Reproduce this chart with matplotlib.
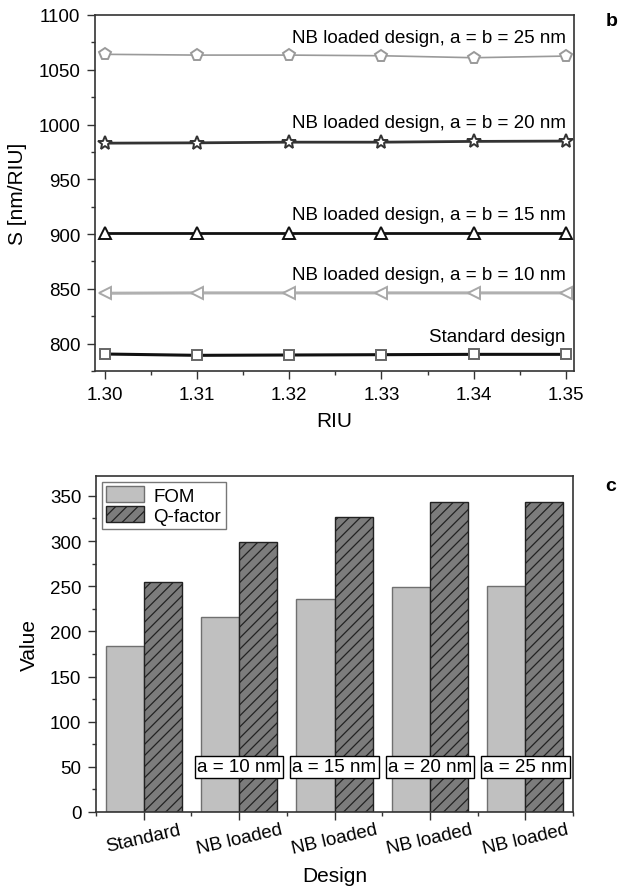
import numpy as np
import matplotlib.pyplot as plt
from matplotlib.ticker import MultipleLocator, FixedLocator

plt.rcParams['font.family'] = ['Liberation Sans', 'DejaVu Sans']
plt.rcParams['hatch.linewidth'] = 0.9

# panel b: sensitivity vs refractive index
riu = [1.30, 1.31, 1.32, 1.33, 1.34, 1.35]
s_standard = [790.5, 789.3, 789.6, 789.9, 790.2, 790.2]
s_nb10 = [846.0, 846.3, 846.3, 846.3, 846.3, 846.3]
s_nb15 = [901.4, 901.4, 901.4, 901.4, 901.4, 901.4]
s_nb20 = [983.0, 983.3, 983.9, 983.9, 984.6, 984.9]
s_nb25 = [1064.1, 1063.4, 1063.4, 1062.8, 1061.0, 1062.5]

# panel c: FOM and Q-factor per design
designs = ["Standard", "NB loaded", "NB loaded", "NB loaded", "NB loaded"]
box_labels = ["", "a = 10 nm", "a = 15 nm", "a = 20 nm", "a = 25 nm"]
fom = [183.8, 216.2, 236.0, 249.6, 250.7]
qfactor = [254.8, 298.9, 326.5, 343.0, 343.0]

FS = 13.5
W, H = 620, 895
fig = plt.figure(figsize=(W / 100, H / 100), dpi=100)
ax1 = fig.add_axes([95 / W, 1 - 372 / H, (574 - 95) / W, (372 - 16) / H])
ax2 = fig.add_axes([96 / W, 1 - 813 / H, (573 - 96) / W, (813 - 477) / H])

series = [
    (s_standard, "s", "#111111", 2.2, "#666666", 7.5, "Standard design"),
    (s_nb10, "<", "#b0b0b0", 2.2, "#a8a8a8", 8.5, "NB loaded design, a = b = 10 nm"),
    (s_nb15, "^", "#111111", 2.0, "#111111", 8.5, "NB loaded design, a = b = 15 nm"),
    (s_nb20, "*", "#333333", 2.0, "#333333", 10, "NB loaded design, a = b = 20 nm"),
    (s_nb25, "p", "#9a9a9a", 1.2, "#9a9a9a", 8.5, "NB loaded design, a = b = 25 nm"),
]
for vals, mk, lc, lw, mc, ms, lab in series:
    ax1.plot(riu, vals, color=lc, lw=lw, marker=mk, ms=ms, mfc="white",
             mec=mc, mew=1.4, zorder=3, clip_on=False)
    ax1.text(1.35, vals[-1] + 12.5, lab, ha="right", va="baseline", fontsize=FS)

ax1.set_xlim(1.2989, 1.3509)
ax1.set_ylim(775, 1100)
ax1.xaxis.set_major_locator(FixedLocator(riu))
ax1.xaxis.set_minor_locator(FixedLocator([1.305, 1.315, 1.325, 1.335, 1.345]))
ax1.set_xticklabels([f"{v:.2f}" for v in riu])
ax1.yaxis.set_major_locator(MultipleLocator(50))
ax1.yaxis.set_minor_locator(MultipleLocator(25))
ax1.set_xlabel("RIU", fontsize=15, labelpad=6)
ax1.set_ylabel("S [nm/RIU]", fontsize=15, labelpad=8)

# panel c
x = np.arange(len(designs))
w = 0.4
ax2.bar(x - w / 2, fom, w, color="#c0c0c0", edgecolor="#707070", lw=1.0,
        label="FOM", zorder=2)
ax2.bar(x + w / 2, qfactor, w, color="#7c7c7c", edgecolor="#222222", lw=1.0,
        hatch="///", label="Q-factor", zorder=2)
for xi, txt in zip(x, box_labels):
    if txt:
        ax2.text(xi, 50, txt, ha="center", va="center", fontsize=FS, zorder=4,
                 bbox=dict(boxstyle="square,pad=0.12", fc="white", ec="black", lw=1.0))
ax2.set_xlim(-0.5, 4.5)
ax2.set_ylim(0, 372)
ax2.set_xticks(x)
ax2.set_xticklabels(designs, rotation=13, ha="center", fontsize=FS)
ax2.xaxis.set_minor_locator(FixedLocator(np.arange(-0.5, 5, 1.0)))
ax2.yaxis.set_major_locator(MultipleLocator(50))
ax2.yaxis.set_minor_locator(MultipleLocator(25))
ax2.set_xlabel("Design", fontsize=15, labelpad=6)
ax2.set_ylabel("Value", fontsize=15, labelpad=8)
leg = ax2.legend(loc="upper left", fontsize=FS, frameon=True, fancybox=False,
                 edgecolor="#555555", borderaxespad=0.3, handlelength=2.0,
                 handleheight=0.9, handletextpad=0.5, borderpad=0.25,
                 labelspacing=0.1)
leg.get_frame().set_linewidth(1.0)

for ax in (ax1, ax2):
    ax.tick_params(axis="both", which="major", labelsize=FS, length=6, width=1.0,
                   pad=4.5, direction="out", top=False, right=False, color="#333333")
    ax.tick_params(axis="both", which="minor", length=3, width=1.0,
                   direction="out", color="#333333")
    for sp in ax.spines.values():
        sp.set_color("#333333")
        sp.set_linewidth(1.2)
ax2.tick_params(axis="x", which="major", pad=0.5)

fig.text(612 / W, 1 - 22 / H, "b", fontsize=14, fontweight="bold", ha="center", va="center")
fig.text(611 / W, 1 - 487 / H, "c", fontsize=14, fontweight="bold", ha="center", va="center")

fig.savefig("out.png", dpi=100)
